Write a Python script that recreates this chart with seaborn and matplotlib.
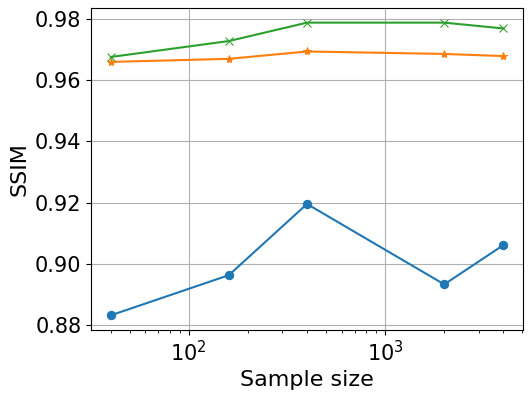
import pandas as pd
import seaborn as sns
import matplotlib
matplotlib.use("Agg")
import matplotlib.pyplot as plt

# Sample sizes and SSIM values
sample_sizes = [40, 160, 400, 2000, 4000]
ssim_blue = [0.8833, 0.8964, 0.9196, 0.8934, 0.9062]
ssim_orange = [0.9659, 0.9669, 0.9693, 0.9685, 0.9678]
ssim_green = [0.9675, 0.9727, 0.9787, 0.9787, 0.9768]

series = [
    (ssim_blue, "#1f77b4", "o"),
    (ssim_orange, "#ff7f0e", "*"),
    (ssim_green, "#2ca02c", "x"),
]

if __name__ == "__main__":
    sns.set_style("ticks", {"text.color": "black", "axes.labelcolor": "black",
                            "xtick.color": "black", "ytick.color": "black",
                            "axes.edgecolor": "black"})
    plt.rcParams['font.family'] = ['DejaVu Sans']

    fig = plt.figure(figsize=(5.32, 3.95), dpi=100)
    ax = fig.add_axes([91 / 532, 1 - 330 / 395, (523 - 91) / 532, (330 - 8) / 395])

    for values, color, marker in series:
        df = pd.DataFrame({"n": sample_sizes, "ssim": values})
        sns.lineplot(data=df, x="n", y="ssim", ax=ax, color=color, marker=marker,
                     markersize=6, markeredgecolor=color, linewidth=1.5)

    ax.set_xscale("log")
    ax.grid(True, color="#b0b0b0", linewidth=0.8)
    ax.set_xlabel("Sample size", fontsize=16)
    ax.set_ylabel("SSIM", fontsize=16)
    ax.tick_params(labelsize=15)
    for s in ax.spines.values():
        s.set_color("black")
        s.set_linewidth(0.8)

    fig.savefig("out.png", dpi=100)
